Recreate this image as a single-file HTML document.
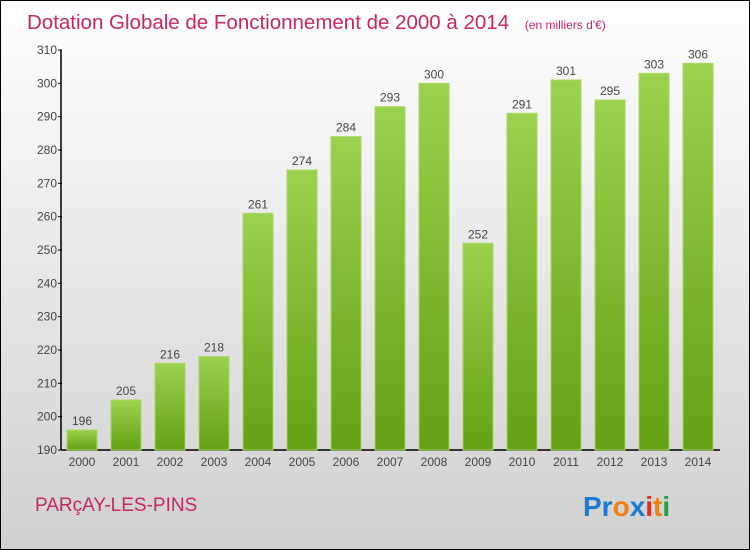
<!DOCTYPE html>
<html><head><meta charset="utf-8"><style>
body{margin:0}
svg{display:block;font-family:"Liberation Sans",sans-serif}
</style></head><body>
<svg width="750" height="550">
<defs>
<linearGradient id="bg" x1="0" y1="0" x2="0" y2="1"><stop offset="0" stop-color="#ffffff"/><stop offset="1" stop-color="#d0d0d0"/></linearGradient>
<linearGradient id="bar" x1="0" y1="0" x2="0" y2="1"><stop offset="0" stop-color="#9bd14e"/><stop offset="1" stop-color="#64a014"/></linearGradient>
</defs>
<rect x="0.5" y="0.5" width="749" height="549" fill="url(#bg)" stroke="#000"/>
<text x="27" y="29" font-size="20.5" fill="#c8285a">Dotation Globale de Fonctionnement de 2000 à 2014 <tspan font-size="12" dx="10">(en milliers d'€)</tspan></text>
<g id="axes"></g>
<g id="bars"></g>
<text x="35" y="511" font-size="19" fill="#c8285a">PARçAY-LES-PINS</text>
<g font-size="28" font-weight="bold" font-family="Liberation Sans,sans-serif">
<text x="583" y="516" fill="#1a7ad4">Pr<tspan fill="#f08010">o</tspan><tspan fill="#1a7ad4">x</tspan><tspan fill="#e03020">i</tspan><tspan fill="#f08010">t</tspan><tspan fill="#20a040">i</tspan></text>
</g>
</svg>
<script>
const years=['2000','2001','2002','2003','2004','2005','2006','2007','2008','2009','2010','2011','2012','2013','2014'];
const values=[196,205,216,218,261,274,284,293,300,252,291,301,295,303,306];
const yTicks=[190,200,210,220,230,240,250,260,270,280,290,300,310];
const NS='http://www.w3.org/2000/svg';
const y=v=>450-(v-190)*400/120;
const x=i=>67+i*44;
function mk(t,a,p,txt){const e=document.createElementNS(NS,t);for(const k in a)e.setAttribute(k,a[k]);if(txt!==undefined)e.textContent=txt;p.appendChild(e);return e;}
const ax=document.getElementById('axes'),bg=document.getElementById('bars');
let l=mk('line',{x1:61,y1:50,x2:61,y2:450,stroke:'#000','stroke-width':1.5},ax);


l=mk('line',{x1:61,y1:450,x2:720,y2:450,stroke:'#000','stroke-width':1.5},ax);


yTicks.forEach(v=>{
 mk('line',{x1:58,x2:62,y1:y(v),y2:y(v),stroke:'#000'},ax);
 const t=mk('text',{x:57,y:y(v)+4,'text-anchor':'end','font-size':12,fill:'#444'},ax,v);
 
 
});
years.forEach((yr,i)=>{
 const v=values[i];
 const r=mk('rect',{x:x(i),y:y(v),width:30,height:450-y(v),fill:'url(#bar)',stroke:'#a8d860','stroke-width':1},bg);
 
 
 const t=mk('text',{x:x(i)+15,y:y(v)-5,'text-anchor':'middle','font-size':12,fill:'#444'},bg,v);
 
 
 const xl=mk('text',{x:x(i)+15,y:466,'text-anchor':'middle','font-size':12,fill:'#444'},ax,yr);
 
 
});
</script>
</body></html>
